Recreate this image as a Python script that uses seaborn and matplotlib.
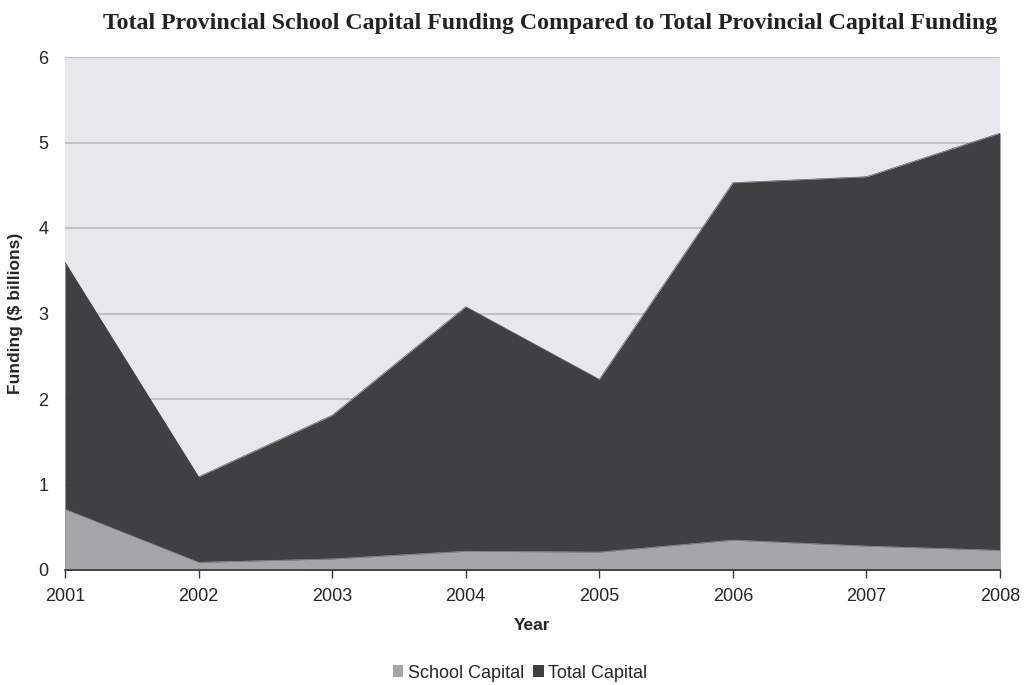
import matplotlib
matplotlib.use("Agg")
import matplotlib.pyplot as plt
from matplotlib.patches import Patch
import seaborn as sns
import pandas as pd

years = [2001, 2002, 2003, 2004, 2005, 2006, 2007, 2008]
school_capital = [0.71, 0.09, 0.13, 0.22, 0.21, 0.35, 0.28, 0.23]
total_capital = [3.60, 1.09, 1.81, 3.08, 2.23, 4.53, 4.60, 5.11]

df = pd.DataFrame({"Year": years, "School Capital": school_capital,
                   "Total Capital": total_capital})

sns.set_theme(style="white")
plt.rcParams["font.family"] = ["Liberation Sans", "DejaVu Sans"]

bg = "#e7e7ed"
dark = "#404042"
light = "#a6a5a9"
grid = "#b9b9bd"

fig = plt.figure(figsize=(10.36, 6.85), dpi=100)
ax = fig.add_axes([65 / 1036, 1 - 570 / 685, 935 / 1036, 513 / 685])
ax.set_facecolor(bg)

# boundary lines sit just under the filled areas
sns.lineplot(data=df, x="Year", y="Total Capital", ax=ax, color=dark, lw=0.4, zorder=1.9)
sns.lineplot(data=df, x="Year", y="School Capital", ax=ax, color=light, lw=0.4, zorder=2.9)
ax.fill_between(df["Year"], 0, df["Total Capital"], color=dark, lw=0, zorder=2)
ax.fill_between(df["Year"], 0, df["School Capital"], color=light, lw=0, zorder=3)

ax.set_xlim(2001, 2008)
ax.set_ylim(0, 6)
ax.set_xticks(years)
ax.set_xticklabels([str(y) for y in years])
ax.set_yticks(range(0, 7))
ax.yaxis.grid(True, color=grid, lw=1.2, zorder=1)
ax.set_axisbelow(True)

for side in ["left", "right", "top"]:
    ax.spines[side].set_visible(False)
ax.spines["bottom"].set_color("#333333")
ax.spines["bottom"].set_linewidth(1.2)
ax.spines["bottom"].set_zorder(5)

ax.tick_params(axis="x", direction="out", length=6, width=1, color="#333333",
               labelsize=13, pad=7, bottom=True)
ax.tick_params(axis="y", length=0, labelsize=13, pad=12)

ax.set_xlabel("Year", fontsize=12.5, fontweight="bold", labelpad=9)
ax.set_ylabel("Funding ($ billions)", fontsize=12.5, fontweight="bold", labelpad=11)

fig.text(0.531, 1 - 24 / 685,
         "Total Provincial School Capital Funding Compared to Total Provincial Capital Funding",
         ha="center", va="center", fontsize=17.2, fontweight="bold",
         family=["Liberation Serif", "DejaVu Serif"], color="#222222")

handles = [Patch(facecolor=light, edgecolor="none", label="School Capital"),
           Patch(facecolor=dark, edgecolor="none", label="Total Capital")]
fig.legend(handles=handles, loc="center", bbox_to_anchor=(0.502, 1 - 673 / 685),
           ncol=2, frameon=False, fontsize=13, handlelength=0.6, handleheight=0.6,
           handletextpad=0.25, columnspacing=0.5)

fig.savefig("out.png", dpi=100, facecolor="white")
